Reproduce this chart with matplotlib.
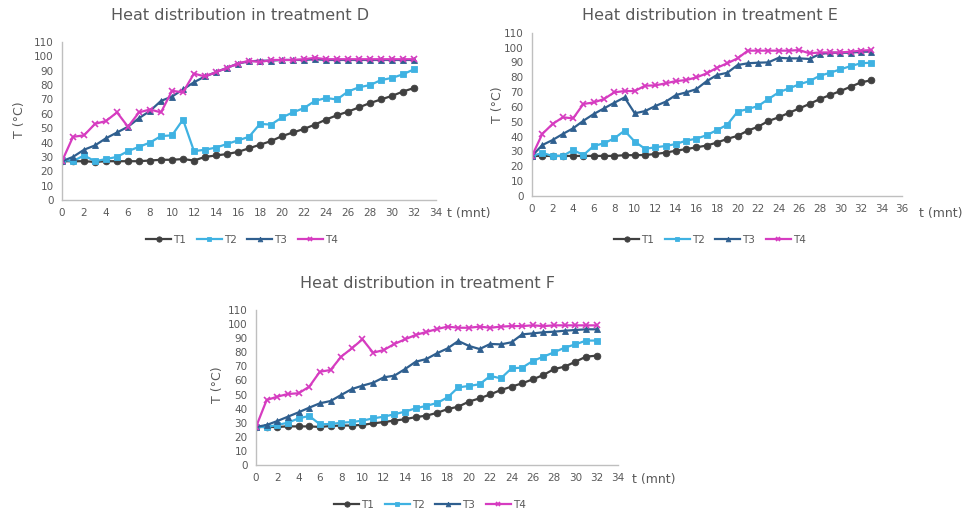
import matplotlib
matplotlib.use("Agg")
import matplotlib.pyplot as plt
import numpy as np

plt.rcParams['font.family'] = ['DejaVu Sans']

# ---------------- data ----------------
t_D = list(range(0, 33))
D_T1 = [27, 27, 27, 26.5, 27, 27, 27, 27, 27.5, 28, 28, 28.5, 27.5, 30, 31, 32, 33.5,
        36, 38.5, 41, 44.5, 47, 49.5, 52.5, 56, 59, 61.5, 64.5, 67.5, 70, 72.5, 75.5, 78]
D_T2 = [28, 27, 31, 27, 28.5, 30, 34, 37, 40, 44.5, 45, 56, 34, 35, 36.5, 39, 41.5,
        44, 53, 52.5, 57.5, 61, 64, 69, 71, 70, 75.5, 78.5, 80, 83.5, 85, 87.5, 91]
D_T3 = [27, 30, 35, 38, 43, 47, 51, 57, 62, 69, 72, 77, 82, 86, 89, 92, 95,
        96.5, 97, 97, 97.5, 97.5, 97.5, 98, 97.5, 97.5, 97.5, 97.5, 97.5, 97.5, 97.5, 97.5, 97.5]
D_T4 = [27, 44, 45, 53, 55, 61, 51, 61, 63, 61, 76, 75, 88, 86, 89, 92, 95,
        97, 96, 97.5, 97.5, 97.5, 98, 99, 98, 98, 98, 98, 98, 98, 98, 98, 98]

t_E = list(range(0, 34))
E_T1 = [27, 27, 27, 27, 27, 27, 27, 27, 27, 27.5, 27.5, 27.6, 28.3, 29.2, 30.5, 31.6, 32.8,
        34, 36, 38.5, 40.5, 44, 46.7, 50.5, 53, 56, 59, 62, 65.3, 68, 70.7, 73.6, 76.5, 78]
E_T2 = [27, 29, 27, 27, 31, 27.6, 33.7, 35.5, 38.8, 44, 36.6, 31.8, 32.8, 33.7, 35, 37.3, 38.6,
        41, 44.4, 48, 56.8, 58.6, 60.6, 65.3, 69.8, 72.5, 75.2, 77.4, 81, 83, 85.3, 87.5, 89.4, 89.8]
E_T3 = [27, 34.3, 37.7, 41.8, 45.6, 50.7, 55.2, 59, 62.8, 66.4, 55.7, 57.2, 60.6, 63.5, 68, 69.8, 72,
        77.4, 81.5, 83, 88.2, 89.4, 89.8, 90, 93.1, 92.7, 92.7, 92.3, 95.6, 96.5, 96.5, 96.5, 97.2, 97.2]
E_T4 = [27, 41.8, 48.5, 53, 52.3, 62, 63, 65.3, 69.8, 70.7, 70.7, 74.3, 74.5, 75.9, 77.4, 78.1, 79.9,
        82.6, 86.4, 89.4, 92.7, 97.9, 97.9, 97.9, 97.9, 97.9, 98.3, 96.1, 96.7, 96.7, 96.7, 97.2, 97.9, 98.3]

t_F = list(range(0, 33))
F_T1 = [27, 27, 27, 27.4, 27.4, 27.4, 27, 27.7, 28, 28, 28.5, 29.5, 30.5, 31.5, 32.5, 34, 35,
        37, 39.7, 41.4, 45, 47.3, 50.1, 53.2, 55.6, 58, 60.8, 63.9, 68.1, 69.8, 73.3, 76.9, 77.6]
F_T2 = [27, 27, 28.4, 30, 33.1, 34.8, 28.9, 29.1, 30, 30.5, 31.5, 33.1, 34.3, 36, 37.9, 40.2, 42,
        44, 48, 55.1, 56.1, 57.3, 63.2, 61.5, 68.6, 69.1, 73.8, 76.9, 80, 83.3, 85.6, 88.3, 88.3]
F_T3 = [27, 28.4, 31.2, 34.3, 37.4, 40.7, 43.8, 45.4, 49.7, 53.9, 56.3, 58.4, 62.2, 63.4, 68.1, 73.3, 75.2,
        79.3, 82.8, 88, 84.5, 82.3, 85.9, 85.6, 87.1, 92.7, 93.4, 94.2, 94.6, 95.3, 95.8, 96.3, 96.3]
F_T4 = [27, 46.1, 48.5, 50.4, 50.9, 55.6, 66.2, 67.4, 76.9, 82.8, 89.2, 79.7, 81.6, 85.9, 89.2, 92.3, 94.4,
        96.5, 98.2, 97.4, 97.4, 98.2, 97.4, 98.2, 98.6, 98.6, 99.1, 98.6, 99.1, 99.1, 99.1, 99.1, 99.1]

series_names = ["T1", "T2", "T3", "T4"]
y_ticks = list(range(0, 111, 10))

# ---------------- style ----------------
W, H = 965, 514
colors = ["#404040", "#3fb2e2", "#2f5f8f", "#d63cc0"]
markers = ["o", "s", "^", "x"]
msizes = [4.8, 4.0, 4.2, 4.0]
grey_txt = "#595959"
spine_c = "#bfbfbf"


def px_rect(l, r, b, t):
    return [l / W, 1 - b / H, (r - l) / W, (b - t) / H]


def panel(rect, t, ys, xmax, title, title_xy, xlab_xy, ylab_xy, leg_xy):
    ax = fig.add_axes(rect)
    handles = []
    for y, c, m, ms in zip(ys, colors, markers, msizes):
        h, = ax.plot(t, y, color=c, lw=1.6, marker=m, ms=ms, mfc=c, mec=c,
                     mew=1.2 if m == "x" else 0.6, solid_joinstyle="round")
        handles.append(h)
    ax.set_xlim(0, xmax)
    ax.set_ylim(0, 110)
    ax.set_xticks(list(range(0, xmax + 1, 2)))
    ax.set_yticks(y_ticks)
    for s in ["top", "right"]:
        ax.spines[s].set_visible(False)
    for s in ["left", "bottom"]:
        ax.spines[s].set_color(spine_c)
        ax.spines[s].set_linewidth(1.0)
    ax.tick_params(length=0, labelsize=7.5, labelcolor=grey_txt, pad=6)
    ax.patch.set_alpha(0)
    fig.text(title_xy[0] / W, 1 - title_xy[1] / H, title, ha="center", va="center",
             fontsize=11.5, color=grey_txt)
    fig.text(xlab_xy[0] / W, 1 - xlab_xy[1] / H, "t (mnt)", ha="left", va="center",
             fontsize=9, color=grey_txt)
    fig.text(ylab_xy[0] / W, 1 - ylab_xy[1] / H, "T (°C)", ha="center", va="center",
             fontsize=9, color=grey_txt, rotation=90)
    leg = fig.legend(handles, series_names, loc="center",
                     bbox_to_anchor=(leg_xy[0] / W, 1 - leg_xy[1] / H),
                     ncol=4, frameon=False, fontsize=7.5, handlelength=2.4,
                     handletextpad=0.2, columnspacing=1.0, borderaxespad=0,
                     borderpad=0, markerscale=0.8)
    for txt in leg.get_texts():
        txt.set_color(grey_txt)
    return ax


fig = plt.figure(figsize=(W / 100, H / 100), dpi=100)
fig.patch.set_facecolor("white")

panel(px_rect(62, 436, 200, 42), t_D, [D_T1, D_T2, D_T3, D_T4], 34,
      "Heat distribution in treatment D", (240, 15), (447, 213), (20, 120), (242, 240))
panel(px_rect(532, 902, 196, 32.7), t_E, [E_T1, E_T2, E_T3, E_T4], 36,
      "Heat distribution in treatment E", (710, 15), (919, 213), (497, 105), (710, 240))
panel(px_rect(256, 618, 465, 310), t_F, [F_T1, F_T2, F_T3, F_T4], 34,
      "Heat distribution in treatment F", (428, 283), (632, 479), (217, 385), (430, 505))

fig.savefig("out.png", dpi=100)
